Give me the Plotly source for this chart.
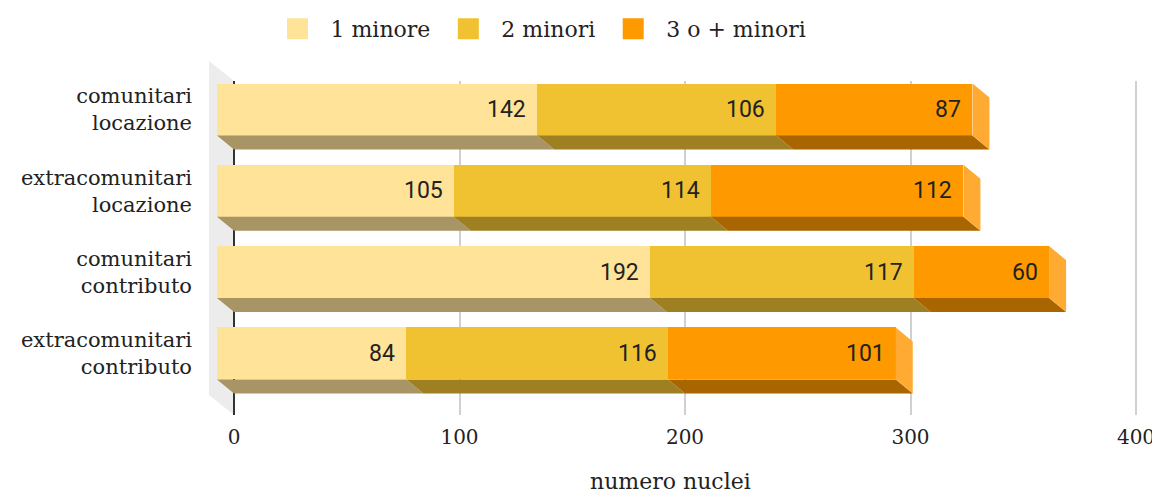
import plotly.graph_objects as go

categories = [
    "comunitari<br>locazione",
    "extracomunitari<br>locazione",
    "comunitari<br>contributo",
    "extracomunitari<br>contributo",
]
series_names = ["1 minore", "2 minori", "3 o + minori"]
uno_minore = [142, 105, 192, 84]
due_minori = [106, 114, 117, 116]
tre_o_piu = [87, 112, 60, 101]
x_ticks = [0, 100, 200, 300, 400]
x_title = "numero nuclei"

front_colors = ["#FEE398", "#F0C232", "#FF9900"]
bottom_colors = ["#A89464", "#9E7F22", "#A86500"]
side_color = "#FFAB33"
serif = "Georgia, 'DejaVu Serif', serif"

# geometry (pixels); the page body adds an 8px margin around the figure
OFF = 8
W, H = 1160 - OFF, 495 - OFF
L, T = 205 - OFF, 81 - OFF
R = W - (1145 - OFF)
B = H - (415 - OFF)
plot_w = W - L - R
plot_h = H - T - B
px_per_unit = 2.255
band_px = 81.3

x_range = [-12 / px_per_unit, (plot_w - 12) / px_per_unit]
dx = 17 / px_per_unit
x2_range = [x_range[0] - dx, x_range[1] - dx]
y_top = -28.5 / band_px
y_range = [y_top + plot_h / band_px, y_top]
dy = 14 / band_px
bar_w = 52 / band_px

series = [uno_minore, due_minori, tre_o_piu]
ypos = list(range(len(categories)))

fig = go.Figure()

# bottom faces of the 3d bars
starts = [0] * len(categories)
for k, vals in enumerate(series):
    xs, ys = [], []
    for i, v in enumerate(vals):
        x0, x1 = starts[i], starts[i] + v
        yb = i + bar_w / 2
        xs += [x0, x1, x1 + dx, x0 + dx, x0, None]
        ys += [yb, yb, yb + dy, yb + dy, yb, None]
    fig.add_trace(go.Scatter(x=xs, y=ys, fill="toself", fillcolor=bottom_colors[k],
                             line=dict(width=0), mode="lines", hoverinfo="skip", showlegend=False))
    starts = [s + v for s, v in zip(starts, vals)]

# right side faces
xs, ys = [], []
for i, end in enumerate(starts):
    yt, yb = i - bar_w / 2, i + bar_w / 2
    xs += [end, end + dx, end + dx, end, end, None]
    ys += [yt, yt + dy, yb + dy, yb, yt, None]
fig.add_trace(go.Scatter(x=xs, y=ys, fill="toself", fillcolor=side_color,
                         line=dict(width=0), mode="lines", hoverinfo="skip", showlegend=False))

# front faces
for k, vals in enumerate(series):
    fig.add_trace(go.Bar(x=vals, y=ypos, orientation="h", width=bar_w, name=series_names[k],
                         marker=dict(color=front_colors[k], line=dict(width=0)), showlegend=False))

# legend entries
for k, name in enumerate(series_names):
    fig.add_trace(go.Scatter(x=[None], y=[None], mode="markers", name=name,
                             marker=dict(symbol="square", size=16, color=front_colors[k],
                                         line=dict(width=5, color=front_colors[k]))))

# back-plane axis carrier
fig.add_trace(go.Scatter(x=[0], y=[0], xaxis="x2", mode="markers", marker=dict(opacity=0),
                         hoverinfo="skip", showlegend=False))

# value labels
annotations = []
starts = [0] * len(categories)
for vals in series:
    for i, v in enumerate(vals):
        starts[i] += v
        annotations.append(dict(x=starts[i], y=i, xref="x", yref="y", text=str(v), showarrow=False,
                                xanchor="right", xshift=-9, font=dict(family="Roboto", size=23, color="#222")))

def px_to_paper(px, py):
    return (px - OFF - L) / plot_w, (H - B - (py - OFF)) / plot_h

wall = [px_to_paper(*p) for p in [(209, 61), (234, 81), (234, 415), (209, 395)]]
wall_path = "M " + " L ".join(f"{a:.4f},{b:.4f}" for a, b in wall) + " Z"
leg_x, leg_y = px_to_paper(538, 29)
tit_x, tit_y = px_to_paper(670, 481)
annotations.append(dict(x=tit_x, y=tit_y, xref="paper", yref="paper", text=x_title, showarrow=False,
                        xanchor="center", yanchor="middle", font=dict(family=serif, size=22, color="#222")))

fig.update_layout(
    width=W, height=H,
    margin=dict(l=L, r=R, t=T, b=B, autoexpand=False),
    paper_bgcolor="white", plot_bgcolor="white",
    barmode="stack",
    bargap=0,
    font=dict(family=serif, color="#222", size=18),
    showlegend=True,
    legend=dict(orientation="h", traceorder="normal", x=leg_x, xanchor="center",
                y=leg_y, yanchor="middle",
                font=dict(family=serif, size=22, color="#222"), itemwidth=56, bgcolor="rgba(0,0,0,0)"),
    xaxis=dict(range=x_range, showgrid=False, zeroline=False, showticklabels=False, ticks="", automargin=False),
    xaxis2=dict(range=x2_range, overlaying="x", anchor="y", side="bottom", tickvals=x_ticks, automargin=False,
                showgrid=True, gridcolor="#d0d0d0", gridwidth=1.5,
                zeroline=True, zerolinecolor="#333", zerolinewidth=1.5,
                ticks="", ticklabelstandoff=8, tickfont=dict(family=serif, size=20, color="#222")),
    yaxis=dict(range=y_range, tickvals=ypos, ticktext=categories, showgrid=False, zeroline=False,
               automargin=False, ticks="", ticklabelstandoff=12, tickfont=dict(family=serif, size=21, color="#222")),
    shapes=[dict(type="path", xref="paper", yref="paper", path=wall_path, fillcolor="#ececec",
                 line=dict(width=0), layer="below")],
    annotations=annotations,
)

fig.write_html("out.html")
